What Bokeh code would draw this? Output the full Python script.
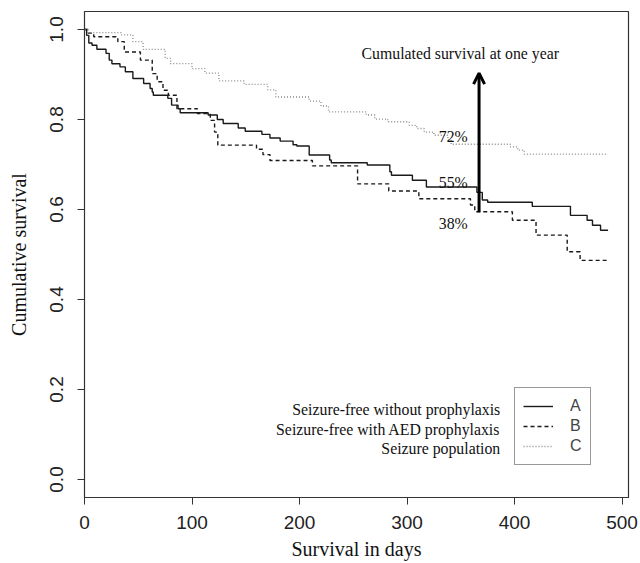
import math
from bokeh.plotting import figure
from bokeh.models import Range1d, Label, Arrow, OpenHead, FixedTicker, Legend, LegendItem
from bokeh.embed import file_html
from bokeh.resources import INLINE

# ---- data ----
A_time = [0, 2, 4, 7, 11.5, 20, 23, 25.5, 33, 38, 45, 55, 61, 63, 64, 77.5, 81, 87, 89, 115,
          123.5, 129, 143, 149.5, 165, 172.5, 182, 194, 197.5, 209, 228, 229.5, 263, 284, 285.5,
          305, 318, 365, 370, 375, 416.5, 452, 467.5, 472.5, 480, 487]
A_surv = [1.000, 0.987, 0.970, 0.965, 0.956, 0.947, 0.932, 0.924, 0.917, 0.906, 0.891, 0.880,
          0.869, 0.861, 0.854, 0.847, 0.832, 0.824, 0.815, 0.810, 0.800, 0.791, 0.781, 0.774,
          0.767, 0.759, 0.752, 0.744, 0.741, 0.721, 0.710, 0.704, 0.699, 0.684, 0.676, 0.665,
          0.650, 0.638, 0.621, 0.616, 0.607, 0.587, 0.576, 0.565, 0.554, 0.554]

B_time = [0, 3, 8.6, 31, 37, 52, 63, 67.6, 73, 78, 86, 105, 117, 121, 124, 160, 166, 172.5,
          212, 254, 283, 311, 359, 363, 398, 420, 449, 461, 487]
B_surv = [1.000, 0.992, 0.984, 0.973, 0.950, 0.932, 0.902, 0.884, 0.865, 0.854, 0.824, 0.813,
          0.798, 0.772, 0.743, 0.734, 0.722, 0.709, 0.697, 0.657, 0.641, 0.624, 0.610, 0.595,
          0.576, 0.543, 0.506, 0.487, 0.487]

C_time = [0, 3, 34, 45, 54.5, 75, 80, 100, 112, 125, 148.5, 170.5, 178, 209, 220, 227, 262,
          270, 282, 302, 309, 316, 325, 338, 341, 396, 403, 409, 487]
C_surv = [1.000, 0.993, 0.988, 0.973, 0.956, 0.936, 0.924, 0.913, 0.903, 0.886, 0.878, 0.866,
          0.850, 0.841, 0.830, 0.817, 0.810, 0.801, 0.795, 0.787, 0.780, 0.772, 0.765, 0.754,
          0.745, 0.739, 0.732, 0.723, 0.723]

group_keys = ["A", "B", "C"]
group_names = ["Seizure-free without prophylaxis", "Seizure-free with AED prophylaxis",
               "Seizure population"]
pct_labels = ["72%", "55%", "38%"]
x_ticks = [0, 100, 200, 300, 400, 500]
y_ticks = [0.0, 0.2, 0.4, 0.6, 0.8, 1.0]
y_tick_labels = ["0.0", "0.2", "0.4", "0.6", "0.8", "1.0"]

SERIF = "Liberation Serif"
SANS = "Liberation Sans"
NOTE_SIZE = "15.8px"

p = figure(width=638, height=563, x_range=Range1d(0, 506), y_range=Range1d(-0.04, 1.04),
           output_backend="svg", toolbar_location=None,
           min_border_left=84, min_border_right=10, min_border_top=11, min_border_bottom=66)
p.background_fill_color = "white"
p.border_fill_color = "white"
p.outline_line_color = "#333333"
p.outline_line_width = 1.2
p.xgrid.visible = False
p.ygrid.visible = False

for ax in (p.xaxis[0], p.yaxis[0]):
    ax.axis_line_color = "#333333"
    ax.major_tick_line_color = "#333333"
    ax.major_tick_out = 7
    ax.major_tick_in = 0
    ax.minor_tick_out = 0
    ax.minor_tick_in = 0
    ax.major_label_text_font = SANS
    ax.major_label_text_font_size = "19px"
    ax.major_label_text_color = "#222222"
    ax.axis_label_text_font = SERIF
    ax.axis_label_text_font_size = "20px"
    ax.axis_label_text_font_style = "normal"
    ax.axis_label_text_color = "#111111"

p.xaxis.major_label_standoff = 11
p.yaxis.major_label_standoff = 15
p.xaxis.axis_label = "Survival in days"
p.yaxis.axis_label = "Cumulative survival"
p.xaxis.axis_label_standoff = 6
p.yaxis.axis_label_standoff = 17

p.xaxis.ticker = FixedTicker(ticks=x_ticks)
p.yaxis.ticker = FixedTicker(ticks=y_ticks)
p.yaxis.major_label_overrides = {t: l for t, l in zip(y_ticks, y_tick_labels)}
p.yaxis.major_label_orientation = "vertical"

rA = p.step(A_time, A_surv, mode="after", line_color="#1a1a1a", line_width=1.4)
rB = p.step(B_time, B_surv, mode="after", line_color="#1a1a1a", line_width=1.4, line_dash="4 3")
rC = p.step(C_time, C_surv, mode="after", line_color="#8a8a8a", line_width=1.3, line_dash="1 2")

# annotations
p.add_layout(Label(x=349.5, y=0.947, text="Cumulated survival at one year", text_align="center",
                   text_baseline="alphabetic", text_font=SERIF, text_font_size=NOTE_SIZE,
                   text_color="#111111"))
for txt, yy in zip(pct_labels, [0.763, 0.660, 0.570]):
    p.add_layout(Label(x=356.5, y=yy, text=txt, text_align="right", text_baseline="alphabetic",
                       text_font=SERIF, text_font_size=NOTE_SIZE, text_color="#111111"))

p.add_layout(Arrow(end=OpenHead(size=11, line_width=3, line_color="black"),
                   x_start=367, y_start=0.594, x_end=367, y_end=0.903,
                   line_width=3, line_color="black"))

# legend (keys inside box, descriptions to the left)
legend = Legend(items=[LegendItem(label=k, renderers=[r]) for k, r in zip(group_keys, [rA, rB, rC])],
                location=(430, 32), margin=0, padding=8, spacing=0,
                glyph_width=30, glyph_height=20, label_height=20, label_width=0,
                label_standoff=17, label_text_font=SANS, label_text_font_size="16px",
                label_text_baseline="middle",
                border_line_color="#333333", border_line_width=1.2,
                background_fill_color="white", background_fill_alpha=1.0)
p.add_layout(legend)
for name, yy in zip(group_names, [0.156, 0.112, 0.068]):
    p.add_layout(Label(x=386.7, y=yy, text=name, text_align="right", text_baseline="alphabetic",
                       text_font=SERIF, text_font_size=NOTE_SIZE, text_color="#111111"))

open("out.html", "w").write(file_html(p, INLINE))
